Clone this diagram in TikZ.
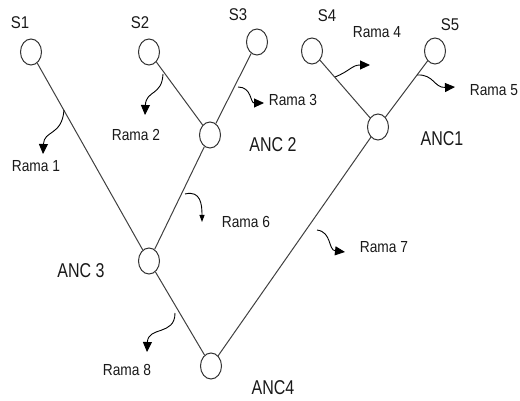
\documentclass[tikz,border=0pt]{standalone}
\usepackage{fontspec}
\setmainfont{Liberation Sans}
\usetikzlibrary{shapes.geometric,arrows.meta}
\begin{document}
\begin{tikzpicture}[x=1pt,y=-1pt,
  taxon/.style={ellipse,draw=black!80,line width=1pt,minimum width=21pt,minimum height=26pt,inner sep=0pt,fill=white},
  branch/.style={draw=black!75,line width=1pt},
  pointer/.style={draw=black,line width=0.9pt,-{Triangle[length=10pt,width=9pt]}},
  smallpointer/.style={draw=black,line width=0.9pt,-{Triangle[length=7pt,width=5pt]}},
  leaftext/.style={font=\fontsize{17}{17}\selectfont,xscale=0.88,transform shape,text=black!90,inner sep=0pt},
  anctext/.style={font=\fontsize{20}{20}\selectfont,xscale=0.8,transform shape,text=black!90,inner sep=0pt},
  ramatext/.style={font=\fontsize{16}{16}\selectfont,xscale=0.86,transform shape,text=black!90,inner sep=0pt}]
\useasboundingbox (0,0) rectangle (520,401);

% tree nodes
\node[taxon] (s1) at (31,52) {};
\node[taxon] (s2) at (149,52) {};
\node[taxon] (s3) at (257,42) {};
\node[taxon] (s4) at (312,51) {};
\node[taxon] (s5) at (435,51) {};
\node[taxon] (anc1) at (378,127) {};
\node[taxon] (anc2) at (210,135) {};
\node[taxon] (anc3) at (149,261) {};
\node[taxon] (anc4) at (211,366) {};

% branches
\draw[branch] (s1) -- (anc3);
\draw[branch] (s2) -- (anc2);
\draw[branch] (s3) -- (anc2);
\draw[branch] (anc2) -- (anc3);
\draw[branch] (s4) -- (anc1);
\draw[branch] (s5) -- (anc1);
\draw[branch] (anc3) -- (anc4);
\draw[branch] (anc1) -- (anc4);

% node labels
\node[leaftext] (ls1) at (20,23) {S1};
\node[leaftext] (ls2) at (140,23) {S2};
\node[leaftext] (ls3) at (238,15) {S3};
\node[leaftext] (ls4) at (327,16) {S4};
\node[leaftext] (ls5) at (450,25) {S5};
\node[anctext] (la1) at (442,139) {ANC1};
\node[anctext] (la2) at (273,145) {ANC 2};
\node[anctext] (la3) at (81,271) {ANC 3};
\node[anctext] (la4) at (273,388) {ANC4};

% branch labels
\node[ramatext] (r1) at (36,166) {Rama 1};
\node[ramatext] (r2) at (136,135) {Rama 2};
\node[ramatext] (r3) at (293,100) {Rama 3};
\node[ramatext] (r4) at (377,32) {Rama 4};
\node[ramatext] (r5) at (494,90) {Rama 5};
\node[ramatext] (r6) at (246,222) {Rama 6};
\node[ramatext] (r7) at (384,247) {Rama 7};
\node[ramatext] (r8) at (127,370) {Rama 8};

% pointer tails on the branches
\coordinate (p1) at (64,110);
\coordinate (p2) at (163,74);
\coordinate (p3) at (238,87);
\coordinate (p4) at (335,77);
\coordinate (p5) at (417,75);
\coordinate (p6) at (185,194);
\coordinate (p7) at (317,230);
\coordinate (p8) at (175,313);

% curved pointers from branches to their labels
\draw[pointer] (p1) .. controls (62,136) and (44,130) .. (43,154);
\draw[pointer] (p2) .. controls (162,96) and (146,90) .. (145,115);
\draw[pointer] (p3) .. controls (252,87) and (250,103) .. (264,103);
\draw[pointer] (p4) .. controls (350,71) and (352,65) .. (370,65);
\draw[pointer] (p5) .. controls (434,74) and (434,88) .. (455,87);
\draw[smallpointer] (p6) .. controls (201,190) and (202,205) .. (202,222);
\draw[pointer] (p7) .. controls (332,232) and (328,250) .. (345,252);
\draw[pointer] (p8) .. controls (175,336) and (148,326) .. (147,352);
\end{tikzpicture}
\end{document}
